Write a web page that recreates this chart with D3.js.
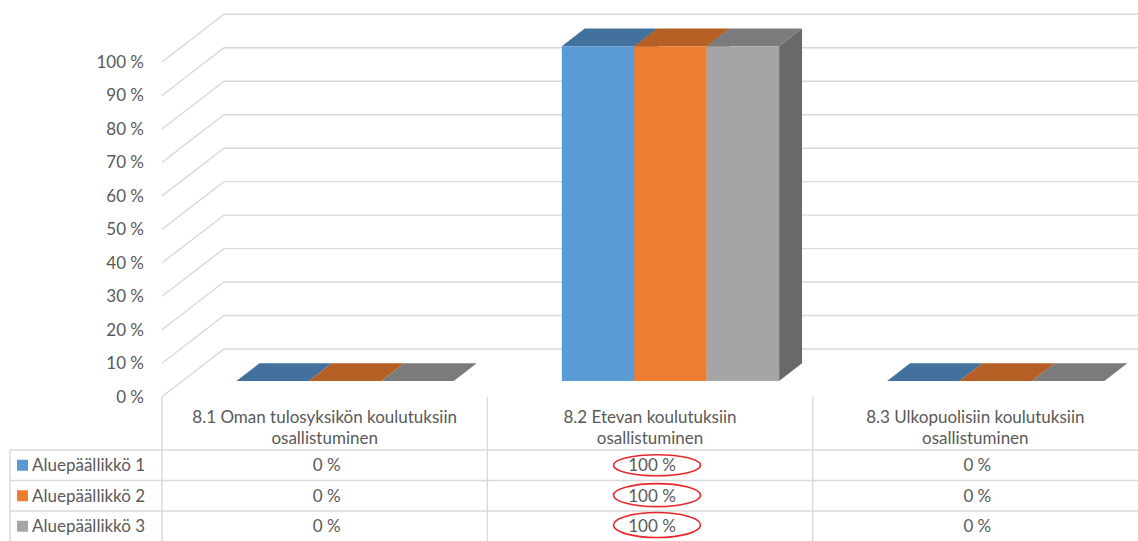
<!DOCTYPE html>
<html>
<head>
<meta charset="utf-8">
<script src="https://cdn.jsdelivr.net/npm/d3@7"></script>
<style>
  body { margin: 0; background: #fff; }
  svg text { font-family: Lato, "Noto Sans", sans-serif; fill: #595959; }
</style>
</head>
<body>
<div id="chart"></div>
<script>
// DATA
const categories = [
  ["8.1 Oman tulosyksikön koulutuksiin", "osallistuminen"],
  ["8.2 Etevan koulutuksiin", "osallistuminen"],
  ["8.3 Ulkopuolisiin koulutuksiin", "osallistuminen"]
];
const seriesNames = ["Aluepäällikkö 1", "Aluepäällikkö 2", "Aluepäällikkö 3"];
const aluepaallikko1 = [0, 1, 0];
const aluepaallikko2 = [0, 1, 0];
const aluepaallikko3 = [0, 1, 0];
const yTicks = [0, 0.1, 0.2, 0.3, 0.4, 0.5, 0.6, 0.7, 0.8, 0.9, 1];

const series = [aluepaallikko1, aluepaallikko2, aluepaallikko3];
const frontColors = ["#5b9bd5", "#ed7d31", "#a5a5a5"];
const topColors = ["#41719c", "#b65f24", "#7b7b7b"];
const sideColors = ["#335a7e", "#8f4a1b", "#696969"];

const width = 1138, height = 541;
const depthX = 62, depthY = 47.7;   // 3d depth vector of the plot
const barFront = 0.33, barBack = 0.70;  // bar depth as fraction of full depth

// finnish style percent: "100 %"
const fi = d3.formatLocale({decimal: ",", thousands: "\u00a0", grouping: [3], currency: ["", " €"], percent: " %"});
const pct = fi.format(".0%");

const svg = d3.select("#chart").append("svg")
  .attr("width", width)
  .attr("height", height);

// SCALES
const x = d3.scaleBand().domain(d3.range(categories.length)).range([162, 1138]);
const inner = d3.scaleBand().domain(d3.range(seriesNames.length))
  .range([0, x.bandwidth()]).paddingInner(0).paddingOuter(0.746);
const y = d3.scaleLinear().domain([0, 1]).range([396.7, 62]);

// GRID (left wall + back wall)
svg.append("g")
  .selectAll("path")
  .data(yTicks)
  .join("path")
  .attr("d", d => {
    let y0 = y(d);
    return "M" + x.range()[0] + "," + y0 + "L" + (x.range()[0] + depthX) + "," + (y0 - depthY) + "H" + width;
  })
  .attr("fill", "none")
  .attr("stroke", "#d9d9d9")
  .attr("stroke-width", 1.4);

// Y AXIS
const yAxis = d3.axisLeft(y).tickValues(yTicks).tickFormat(pct).tickSize(0).tickPadding(3);
const yg = svg.append("g")
  .attr("transform", "translate(147,0)")
  .call(yAxis);
yg.select(".domain").remove();
yg.selectAll("text").style("font-size", "17px").style("font-family", null).attr("fill", "#595959");

// BARS
const bars = [];
categories.forEach((c, i) => {
  series.forEach((s, k) => {
    bars.push({cat: i, k: k, value: s[i]});
  });
});

function pt(px, py, f) {
  return [px + f * depthX, py - f * depthY];
}

const barG = svg.append("g")
  .selectAll("g")
  .data(bars)
  .join("g");

barG.each(function (d) {
  let g = d3.select(this);
  let x0 = x(d.cat) + inner(d.k);
  let x1 = x0 + inner.bandwidth();
  let yv = y(d.value), yb = y(0);
  let line = d3.line();

  // right side
  g.append("path")
    .attr("d", line([pt(x1, yv, barFront), pt(x1, yv, barBack), pt(x1, yb, barBack), pt(x1, yb, barFront)]) + "Z")
    .attr("fill", sideColors[d.k]);
  // top
  g.append("path")
    .attr("d", line([pt(x0, yv, barFront), pt(x1, yv, barFront), pt(x1, yv, barBack), pt(x0, yv, barBack)]) + "Z")
    .attr("fill", topColors[d.k]);
  // front
  let f0 = pt(x0, yv, barFront);
  g.append("rect")
    .attr("x", f0[0])
    .attr("y", f0[1])
    .attr("width", x1 - x0)
    .attr("height", yb - yv)
    .attr("fill", frontColors[d.k]);
});

// DATA TABLE
const rowTop = 450, rowH = 30.5;
const table = svg.append("g").attr("stroke", "#d9d9d9").attr("stroke-width", 1.4);
// column lines
x.domain().forEach(i => {
  table.append("line")
    .attr("x1", x(i)).attr("x2", x(i))
    .attr("y1", y(0)).attr("y2", height);
});
// row lines
seriesNames.forEach((s, k) => {
  table.append("line")
    .attr("x1", 10).attr("x2", width)
    .attr("y1", rowTop + k * rowH).attr("y2", rowTop + k * rowH);
});
table.append("line")
  .attr("x1", 10).attr("x2", 10)
  .attr("y1", rowTop).attr("y2", height);

// category headers
const head = svg.append("g")
  .selectAll("text")
  .data(categories)
  .join("text")
  .attr("x", (d, i) => x(i) + x.bandwidth() / 2)
  .attr("text-anchor", "middle")
  .style("font-size", "17px");
head.selectAll("tspan")
  .data(d => d)
  .join("tspan")
  .attr("x", function () { return d3.select(this.parentNode).attr("x"); })
  .attr("y", (d, j) => 422.5 + j * 21.5)
  .text(d => d);

// legend rows
seriesNames.forEach((s, k) => {
  let cy = rowTop + k * rowH + rowH / 2;
  svg.append("rect")
    .attr("x", 17).attr("y", cy - 5.5)
    .attr("width", 11).attr("height", 11)
    .attr("fill", frontColors[k]);
  svg.append("text")
    .attr("x", 32).attr("y", cy + 6)
    .style("font-size", "17px")
    .text(s);
  series[k].forEach((v, i) => {
    svg.append("text")
      .attr("x", x(i) + x.bandwidth() / 2 + 2)
      .attr("y", cy + 6)
      .attr("text-anchor", "middle")
      .style("font-size", "17px")
      .text(pct(v));
  });
});

// red highlight ellipses around the 100 % cells
const highlightRy = [10.5, 11.5, 12.5];
seriesNames.forEach((s, k) => {
  series[k].forEach((v, i) => {
    if (v === 1) {
      svg.append("ellipse")
        .attr("cx", x(i) + x.bandwidth() / 2 + 7)
        .attr("cy", rowTop + k * rowH + rowH / 2 - k * 0.6)
        .attr("rx", 43.5)
        .attr("ry", highlightRy[k])
        .attr("fill", "none")
        .attr("stroke", "#e8262c")
        .attr("stroke-width", 1.6);
    }
  });
});
</script>
</body>
</html>
